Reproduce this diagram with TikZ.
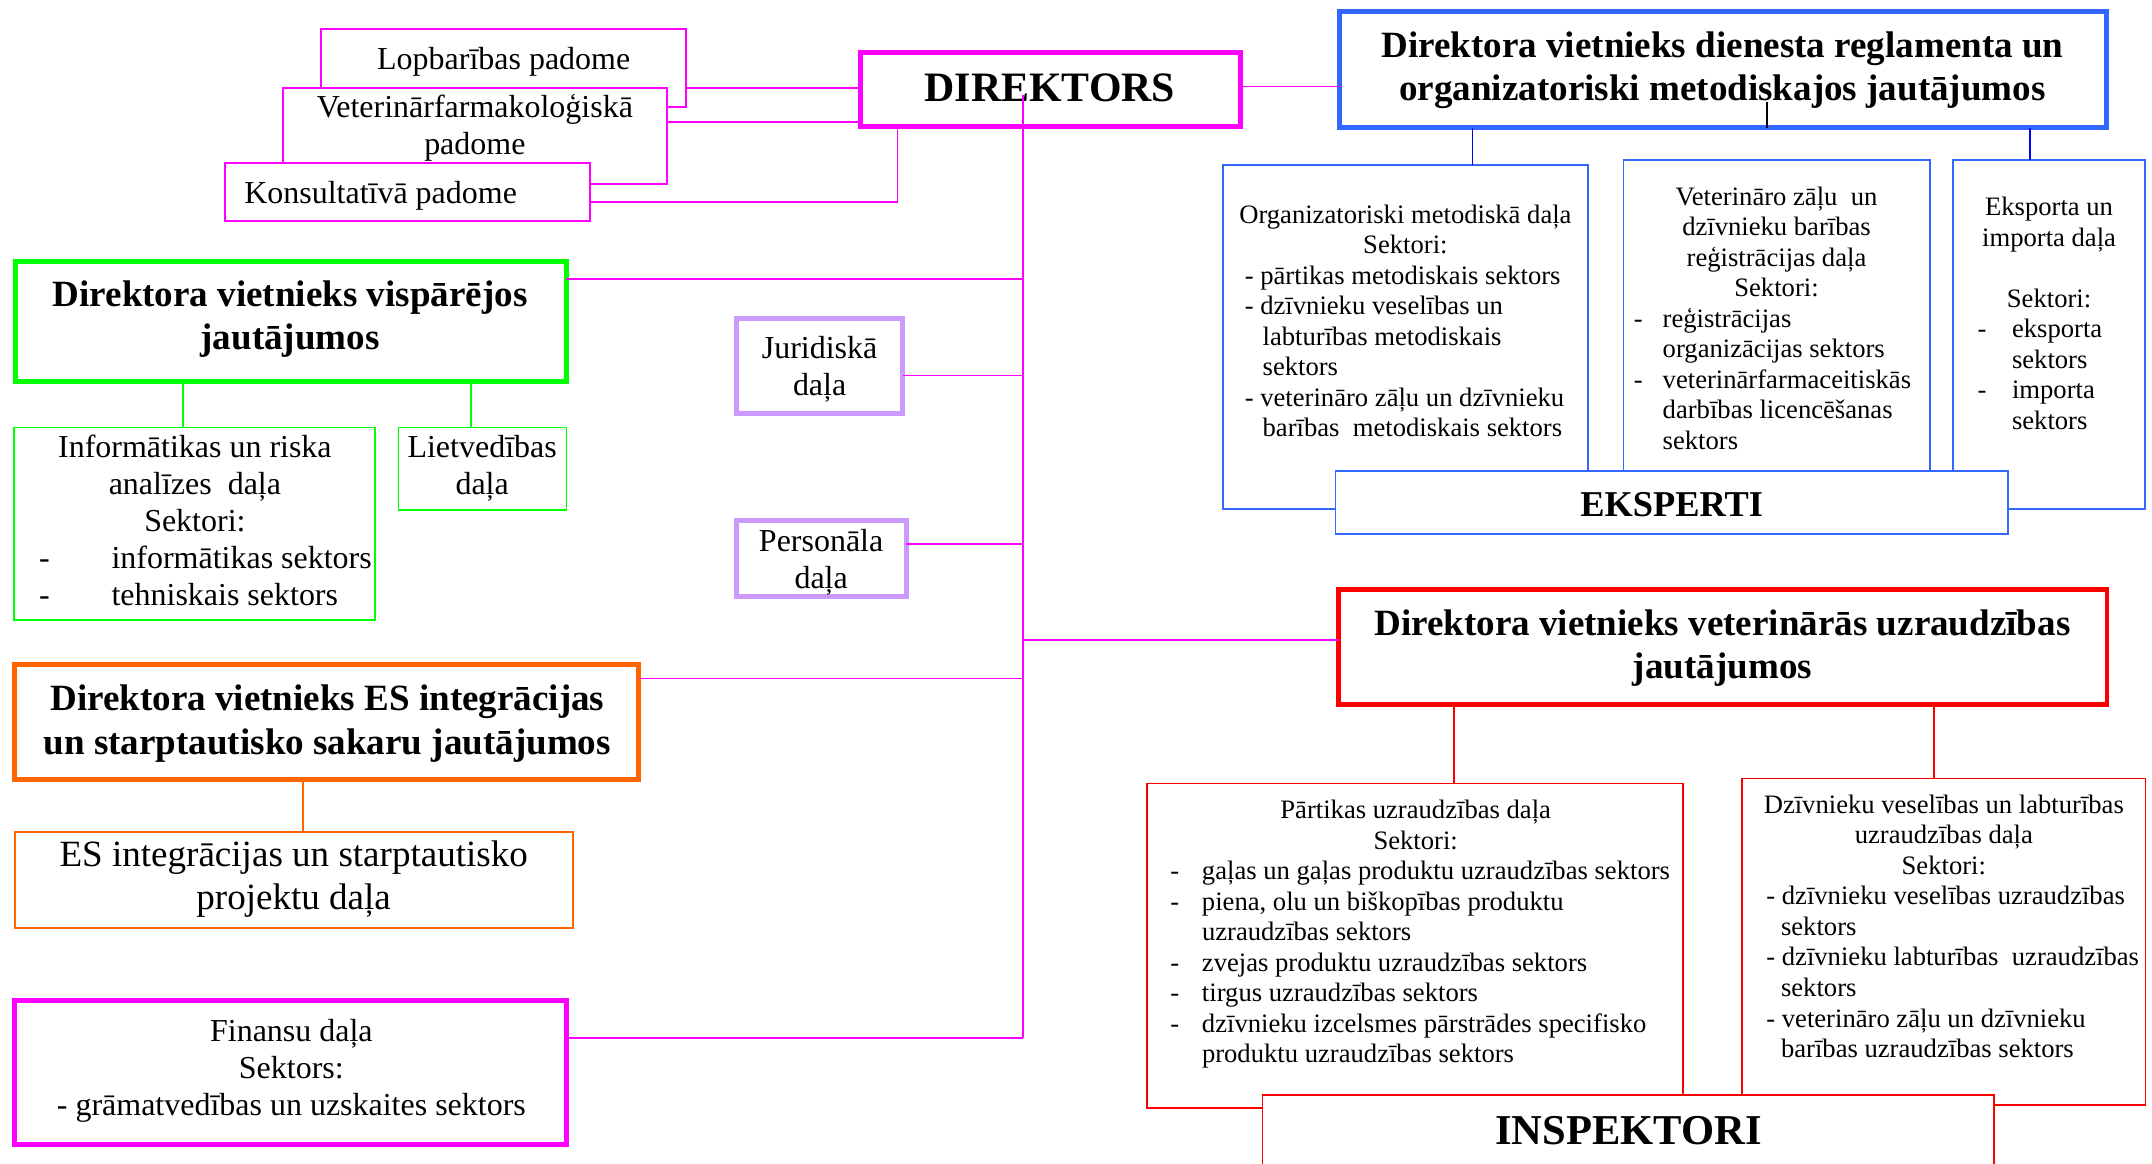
\documentclass[tikz,border=0pt]{standalone}
\usepackage{fontspec}
\setmainfont{Liberation Serif}
\definecolor{mag}{HTML}{FF00FF}
\definecolor{lav}{HTML}{CC99FF}
\definecolor{grn}{HTML}{00FF00}
\definecolor{org}{HTML}{FF6600}
\definecolor{rd}{HTML}{FF0000}
\definecolor{bl}{HTML}{3366FF}
\definecolor{blc}{HTML}{0000FF}
\newcommand\mysm{\fontsize{19.4}{22.25}\selectfont}
\newcommand\mymd{\fontsize{23.3}{26.9}\selectfont}
\newcommand\mylg{\fontsize{27}{30.9}\selectfont}
\newcommand\mytitle{\bfseries\fontsize{27}{31.5}\selectfont}
\newcommand\tl[1]{\begin{tabular}[t]{@{}c@{}}#1\end{tabular}}
\newcommand\tll[1]{\begin{tabular}[t]{@{}l@{}}#1\end{tabular}}
\begin{document}
\begin{tikzpicture}[x=1pt,y=-1pt,
  thinbox/.style={draw=#1,line width=1.2pt,inner sep=0pt,outer sep=0pt,fill=white},
  thickbox/.style={draw=#1,line width=3.6pt,inner sep=0pt,outer sep=0pt,fill=white},
  txt/.style={inner sep=0pt,outer sep=0pt,anchor=base,text=black},
  txtl/.style={inner sep=0pt,outer sep=0pt,anchor=base west,text=black},
  con/.style={line width=1.2pt}]
\useasboundingbox (0,0) rectangle (1568,848);
\clip (0,0) rectangle (1568,848);
\fill[white] (0,0) rectangle (1568,848);

% ---- councils ----
\node[thinbox=mag,minimum width=266pt,minimum height=57pt] (lop) at (367,49.5) {};
\node[thinbox=mag,minimum width=280pt,minimum height=70pt] (vfp) at (346,99) {};
\node[thinbox=mag,minimum width=266pt,minimum height=42pt] (kons) at (297,140) {};
\node[txt,font=\mymd] (lopt) at (367,51) {Lopbarības padome};
\node[txt,font=\mymd] (vfpt) at (346,85.5) {\tl{Veterinārfarmakoloģiskā\\padome}};
\node[txtl,font=\mymd] (konst) at (178,148) {Konsultatīvā padome};

% ---- director ----
\node[thickbox=mag,minimum width=277pt,minimum height=54pt] (dir) at (765.5,65) {};
\node[txt,font=\bfseries\fontsize{30.5}{34}\selectfont] (dirt) at (765,74) {DIREKTORS};

% ---- blue deputy ----
\node[thickbox=bl,minimum width=559pt,minimum height=84.5pt] (dvr) at (1255.5,50.75) {};
\node[txt,font=\mytitle] (dvrt) at (1255,41.6) {\tl{Direktora vietnieks dienesta reglamenta un\\organizatoriski metodiskajos jautājumos}};

\node[thinbox=bl,minimum width=266pt,minimum height=251pt] (omd) at (1024,245.5) {};
\node[thinbox=bl,minimum width=223pt,minimum height=254.5pt] (vzd) at (1294.5,243.75) {};
\node[thinbox=bl,minimum width=140pt,minimum height=254.5pt] (eip) at (1493,243.75) {};
\node[thinbox=bl,minimum width=490pt,minimum height=46pt] (eks) at (1218,366) {};

\node[txt,font=\mysm] (omdh) at (1024,162.6) {\tl{Organizatoriski metodiskā daļa\\Sektori:}};
\node[txtl,font=\mysm] (omdl) at (907,207) {\tll{- pārtikas metodiskais sektors\\- dzīvnieku veselības un\\\hspace*{13pt}labturības metodiskais\\\hspace*{13pt}sektors\\- veterināro zāļu un dzīvnieku\\\hspace*{13pt}barības\ \ metodiskais sektors}};

\node[txt,font=\mysm] (vzdh) at (1294.4,149.5) {\tl{Veterināro zāļu\ \ un\\dzīvnieku barības\\reģistrācijas daļa\\Sektori:}};
\node[txtl,font=\mysm] (vzdl) at (1190.5,238.5) {\tll{\makebox[21pt][l]{-}reģistrācijas\\\hspace*{21pt}organizācijas sektors\\\makebox[21pt][l]{-}veterinārfarmaceitiskās\\\hspace*{21pt}darbības licencēšanas\\\hspace*{21pt}sektors}};

\node[txt,font=\mysm] (eiph) at (1493,157) {\tl{Eksporta un\\importa daļa\\ \\Sektori:}};
\node[txtl,font=\mysm] (eipl) at (1441,246) {\tll{\makebox[25pt][l]{-}eksporta\\\hspace*{25pt}sektors\\\makebox[25pt][l]{-}importa\\\hspace*{25pt}sektors}};

\node[txt,font=\bfseries\fontsize{26.5}{30}\selectfont] (ekst) at (1218,376) {EKSPERTI};

% ---- green deputy ----
\node[thickbox=grn,minimum width=401.2pt,minimum height=87pt] (dvv) at (211.9,234.3) {};
\node[txt,font=\mytitle] (dvvt) at (211.4,223.5) {\tl{Direktora vietnieks vispārējos\\jautājumos}};
\node[thinbox=grn,minimum width=263.1pt,minimum height=140.1pt] (ira) at (141.75,381.65) {};
\node[thinbox=grn,minimum width=122.3pt,minimum height=60pt] (lvd) at (351.55,341.6) {};
\node[txt,font=\mymd] (irah) at (142,333.2) {\tl{Informātikas un riska\\analīzes\ \ daļa\\Sektori:}};
\node[txtl,font=\mymd] (iral) at (28.5,414.1) {\tll{\makebox[52.8pt][l]{-}informātikas sektors\\\makebox[52.8pt][l]{-}tehniskais sektors}};
\node[txt,font=\mymd] (lvdt) at (351.3,333.2) {\tl{Lietvedības\\daļa}};

% ---- staff units ----
\node[thickbox=lav,minimum width=121.5pt,minimum height=68.8pt] (jur) at (597.15,266.7) {};
\node[txt,font=\mymd] (jurt) at (597.2,261) {\tl{Juridiskā\\daļa}};
\node[thickbox=lav,minimum width=123.8pt,minimum height=55.3pt] (pers) at (598.3,406.85) {};
\node[txt,font=\mymd] (perst) at (598.3,402) {\tl{Personāla\\daļa}};

% ---- orange deputy ----
\node[thickbox=org,minimum width=454.7pt,minimum height=84pt] (dves) at (238.15,526) {};
\node[txt,font=\mytitle] (dvest) at (238.5,518) {\tl{Direktora vietnieks ES integrācijas\\un starptautisko sakaru jautājumos}};
\node[thinbox=org,minimum width=406.6pt,minimum height=69.8pt] (esd) at (214,641.3) {};
\node[txt,font=\mylg] (esdt) at (214,631.6) {\tl{ES integrācijas un starptautisko\\projektu daļa}};

% ---- finance ----
\node[thickbox=mag,minimum width=401.8pt,minimum height=104.4pt] (fin) at (211.7,781.4) {};
\node[txt,font=\mymd] (fint) at (212.3,758.8) {\tl{Finansu daļa\\Sektors:\\- grāmatvedības un uzskaites sektors}};

% ---- red deputy ----
\node[thickbox=rd,minimum width=559.7pt,minimum height=83.5pt] (dvvu) at (1255.35,471.45) {};
\node[txt,font=\mytitle] (dvvut) at (1255,462.7) {\tl{Direktora vietnieks veterinārās uzraudzības\\jautājumos}};
\node[thinbox=rd,minimum width=390.6pt,minimum height=236.4pt] (pud) at (1031.1,689) {};
\node[thinbox=rd,minimum width=293.9pt,minimum height=238pt] (dvl) at (1416.25,686.2) {};
\node[thinbox=rd,minimum width=532.9pt,minimum height=72pt] (insp) at (1186.25,834) {};
\node[txt,font=\mysm] (pudh) at (1031.5,596.7) {\tl{Pārtikas uzraudzības daļa\\Sektori:}};
\node[txtl,font=\mysm] (pudl) at (852.8,641) {\tll{\makebox[23pt][l]{-}gaļas un gaļas produktu uzraudzības sektors\\\makebox[23pt][l]{-}piena, olu un biškopības produktu\\\hspace*{23pt}uzraudzības sektors\\\makebox[23pt][l]{-}zvejas produktu uzraudzības sektors\\\makebox[23pt][l]{-}tirgus uzraudzības sektors\\\makebox[23pt][l]{-}dzīvnieku izcelsmes pārstrādes specifisko\\\hspace*{23pt}produktu uzraudzības sektors}};
\node[txt,font=\mysm] (dvlh) at (1416.3,592.7) {\tl{Dzīvnieku veselības un labturības\\uzraudzības daļa\\Sektori:}};
\node[txtl,font=\mysm] (dvll) at (1287,659.3) {\tll{- dzīvnieku veselības uzraudzības\\\hspace*{10.7pt}sektors\\- dzīvnieku labturības\ \ uzraudzības\\\hspace*{10.7pt}sektors\\- veterināro zāļu un dzīvnieku\\\hspace*{10.7pt}barības uzraudzības sektors}};
\node[txt,font=\bfseries\fontsize{31}{35}\selectfont] (inspt) at (1186.5,834) {INSPEKTORI};

% ---- connectors ----
\coordinate (trtop) at (745.5,69);
\coordinate (trbot) at (745.5,756.4);
\draw[con,mag] (lop.east |- 0,64) -- (dir.west |- 0,64);
\draw[con,mag] (vfp.east |- 0,89) -- (dir.west |- 0,89);
\draw[con,mag] (kons.east |- 0,147) -| (dir.south -| 654,0);
\draw[con,mag] (trtop) -- (trbot);
\draw[con,mag] (dvv.east |- 0,203.5) -- (trtop |- 0,203.5);
\draw[con,mag] (jur.east |- 0,273.5) -- (trtop |- 0,273.5);
\draw[con,mag] (pers.east |- 0,396.4) -- (trtop |- 0,396.4);
\draw[con,mag] (trtop |- 0,466.2) -- (dvvu.west |- 0,466.2);
\draw[con,mag] (dves.east |- 0,494.4) -- (trtop |- 0,494.4);
\draw[con,mag] (fin.east |- trbot) -- (trbot);
\draw[con,mag] (dir.east |- 0,63) -- (dvr.west |- 0,63);

\draw[con,blc] (dvr.south -| 1073,0) -- (omd.north -| 1073,0);
\draw[con,blc] (dvr.south -| 1479,0) -- (eip.north -| 1479,0);
\coordinate (stubtop) at (1287.5,74);
\draw[con,black] (stubtop) -- (dvr.south -| stubtop);

\draw[con,grn] (dvv.south -| 133.4,0) -- (ira.north -| 133.4,0);
\draw[con,grn] (dvv.south -| 343,0) -- (lvd.north -| 343,0);
\draw[con,org] (dves.south -| 220.6,0) -- (esd.north -| 220.6,0);
\draw[con,rd] (dvvu.south -| 1059.2,0) -- (pud.north -| 1059.2,0);
\draw[con,rd] (dvvu.south -| 1409.2,0) -- (dvl.north -| 1409.2,0);
\end{tikzpicture}
\end{document}
